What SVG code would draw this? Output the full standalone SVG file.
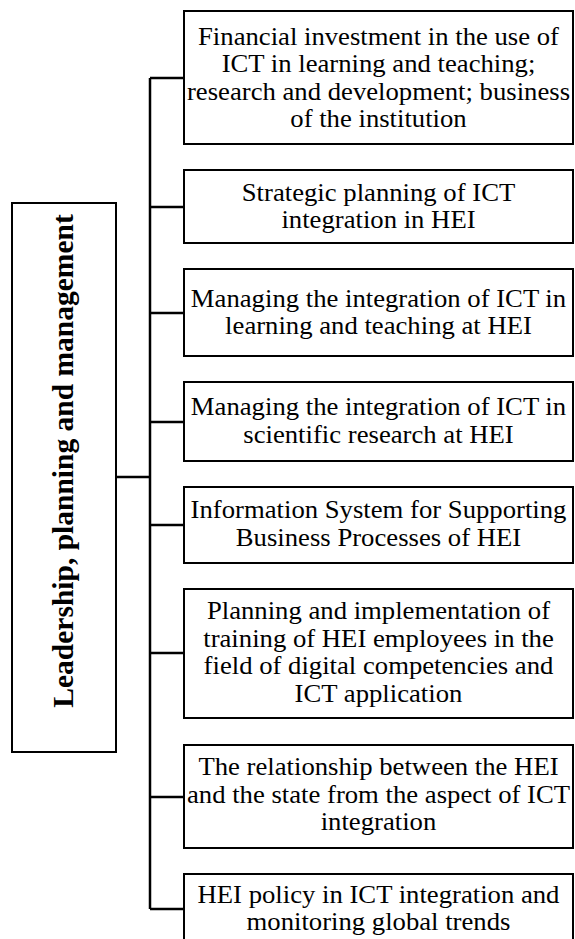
<svg xmlns="http://www.w3.org/2000/svg" width="575" height="939" viewBox="0 0 575 939">
<style>
.box{fill:#fff;stroke:#000;stroke-width:2}
.t{font-family:"Liberation Serif","Times New Roman",serif;font-size:25.3px;fill:#000;text-anchor:middle}
.v{font-family:"Liberation Serif","Times New Roman",serif;font-size:29.5px;font-weight:bold;fill:#000;text-anchor:middle}
.c{fill:none;stroke:#000;stroke-width:2.5}
</style>
<rect width="575" height="939" fill="#fff"/>
<g id="connectors">
<path class="c" d="M150,78 V909"/>
<path class="c" d="M116,477 H150"/>
<path class="c" d="M150,78 H184 M150,207 H184 M150,313 H184 M150,422 H184 M150,525 H184 M150,653 H184 M150,797 H184 M150,909 H184"/>
</g>
<g id="root">
<rect class="box" x="12" y="203" width="104" height="549"/>
<text class="v" transform="translate(73,461) rotate(-90)">Leadership, planning and management</text>
</g>
<g id="n1">
<rect class="box" x="184" y="11" width="389" height="133"/>
<g transform="translate(378.5,0) scale(1.055,1)">
<text class="t" x="0" y="45">Financial investment in the use of</text>
<text class="t" x="0" y="72.5">ICT in learning and teaching;</text>
<text class="t" x="0" y="100">research and development; business</text>
<text class="t" x="0" y="127.5">of the institution</text>
</g>
</g>
<g id="n2">
<rect class="box" x="184" y="170" width="389" height="73"/>
<g transform="translate(378.5,0) scale(1.055,1)">
<text class="t" x="0" y="201">Strategic planning of ICT</text>
<text class="t" x="0" y="228.5">integration in HEI</text>
</g>
</g>
<g id="n3">
<rect class="box" x="184" y="269" width="389" height="87"/>
<g transform="translate(378.5,0) scale(1.055,1)">
<text class="t" x="0" y="307">Managing the integration of ICT in</text>
<text class="t" x="0" y="334.5">learning and teaching at HEI</text>
</g>
</g>
<g id="n4">
<rect class="box" x="184" y="382" width="389" height="79"/>
<g transform="translate(378.5,0) scale(1.055,1)">
<text class="t" x="0" y="415.5">Managing the integration of ICT in</text>
<text class="t" x="0" y="443">scientific research at HEI</text>
</g>
</g>
<g id="n5">
<rect class="box" x="184" y="487" width="389" height="76"/>
<g transform="translate(378.5,0) scale(1.055,1)">
<text class="t" x="0" y="518.5">Information System for Supporting</text>
<text class="t" x="0" y="546">Business Processes of HEI</text>
</g>
</g>
<g id="n6">
<rect class="box" x="184" y="589" width="389" height="129"/>
<g transform="translate(378.5,0) scale(1.055,1)">
<text class="t" x="0" y="619.5">Planning and implementation of</text>
<text class="t" x="0" y="647">training of HEI employees in the</text>
<text class="t" x="0" y="674.5">field of digital competencies and</text>
<text class="t" x="0" y="702">ICT application</text>
</g>
</g>
<g id="n7">
<rect class="box" x="184" y="745" width="389" height="103"/>
<g transform="translate(378.5,0) scale(1.055,1)">
<text class="t" x="0" y="775.5">The relationship between the HEI</text>
<text class="t" x="0" y="803">and the state from the aspect of ICT</text>
<text class="t" x="0" y="830.5">integration</text>
</g>
</g>
<g id="n8">
<rect class="box" x="184" y="874" width="389" height="80"/>
<g transform="translate(378.5,0) scale(1.055,1)">
<text class="t" x="0" y="903">HEI policy in ICT integration and</text>
<text class="t" x="0" y="930.5">monitoring global trends</text>
</g>
</g>
</svg>
